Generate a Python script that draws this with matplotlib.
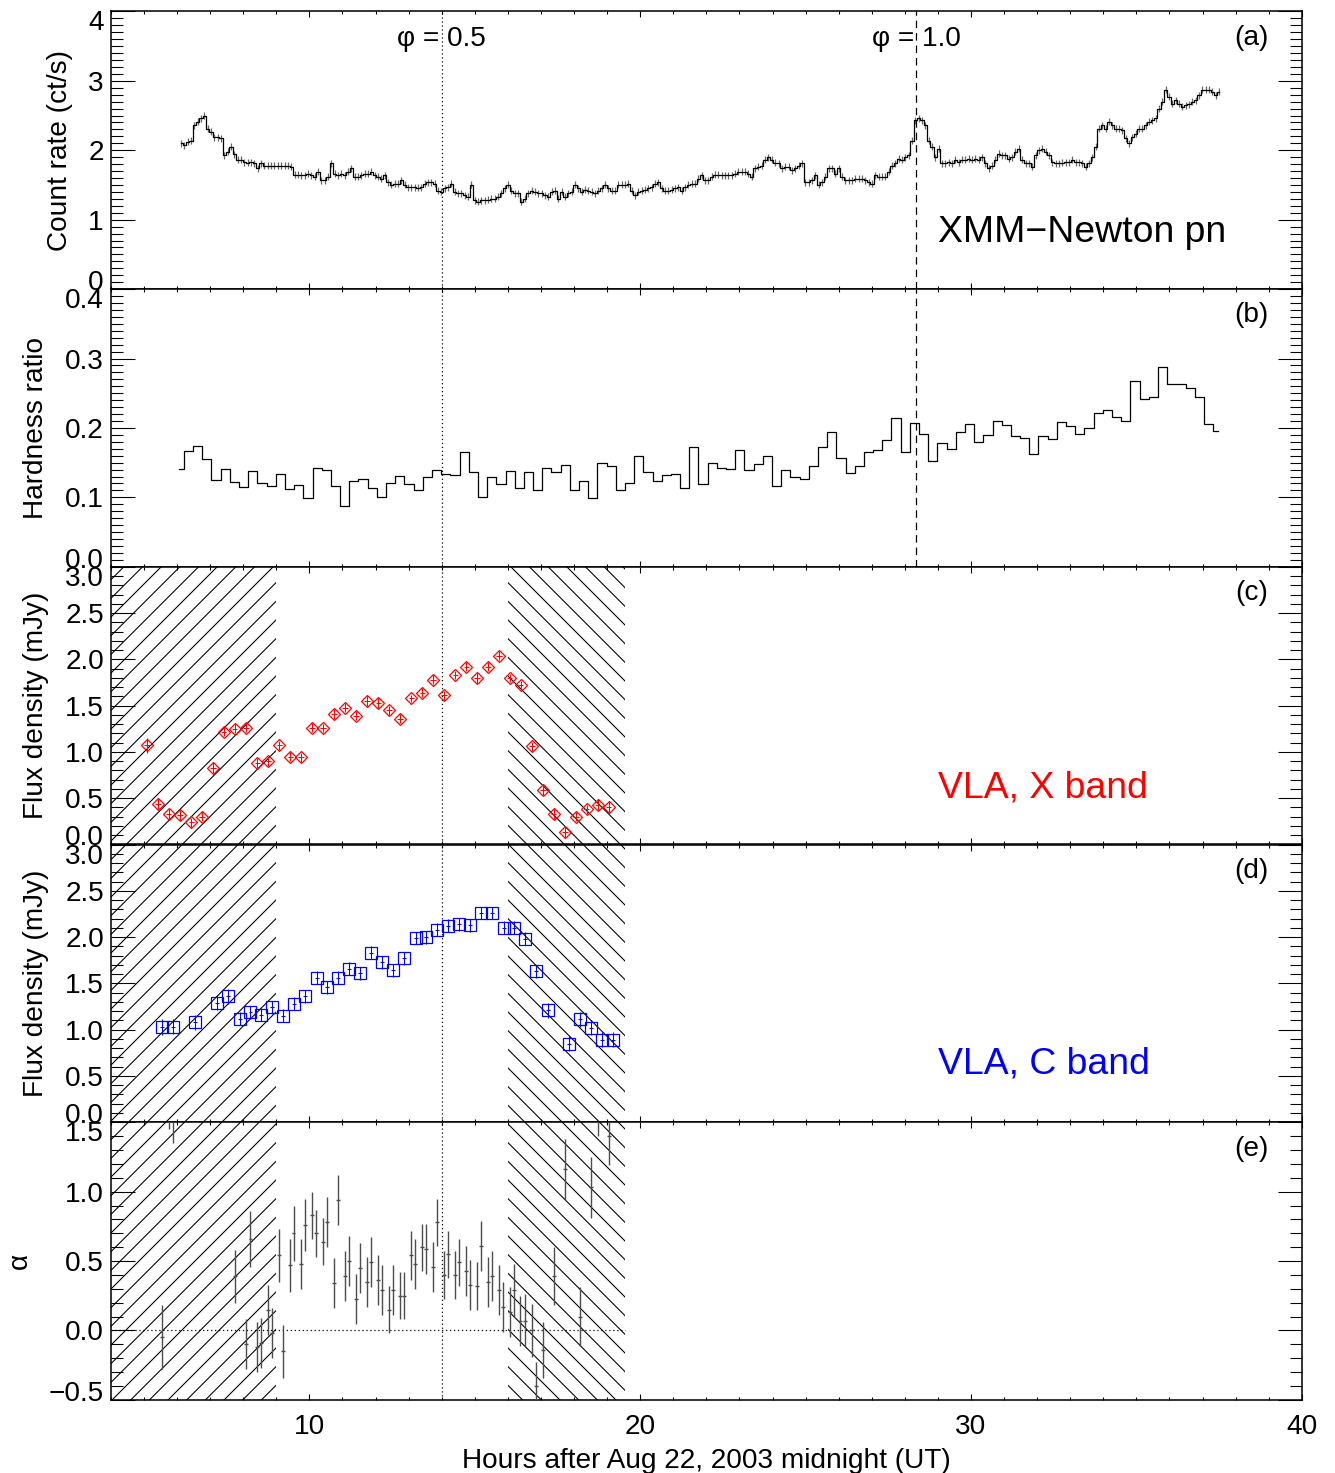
import matplotlib
matplotlib.use("Agg")
import matplotlib.pyplot as plt
import numpy as np
from matplotlib.ticker import MultipleLocator
from matplotlib.transforms import ScaledTranslation

plt.rcParams['font.family'] = ['Liberation Sans', 'DejaVu Sans']
plt.rcParams['hatch.linewidth'] = 0.7
plt.rcParams['axes.unicode_minus'] = True

# ---------------- data ----------------
# (a) XMM-Newton pn count rate (binned light curve)
rate_t0 = 6.12          # hour of first bin centre
rate_dt = 0.1009        # bin width (hours)
rate = [
    2.10, 2.07, 2.12, 2.14, 2.36, 2.41, 2.46, 2.50, 2.31, 2.27,
    2.19, 2.19, 2.17, 1.93, 1.98, 2.05, 1.94, 1.86, 1.86, 1.83,
    1.82, 1.83, 1.81, 1.74, 1.81, 1.78, 1.78, 1.78, 1.78, 1.78,
    1.78, 1.78, 1.78, 1.76, 1.65, 1.65, 1.64, 1.64, 1.66, 1.64,
    1.62, 1.69, 1.57, 1.57, 1.62, 1.81, 1.66, 1.64, 1.66, 1.64,
    1.69, 1.74, 1.62, 1.62, 1.64, 1.66, 1.66, 1.69, 1.64, 1.62,
    1.59, 1.64, 1.54, 1.50, 1.52, 1.52, 1.57, 1.50, 1.47, 1.47,
    1.47, 1.46, 1.47, 1.52, 1.54, 1.54, 1.52, 1.42, 1.40, 1.45,
    1.47, 1.52, 1.40, 1.38, 1.38, 1.35, 1.33, 1.50, 1.28, 1.26,
    1.28, 1.28, 1.29, 1.30, 1.30, 1.33, 1.38, 1.45, 1.50, 1.42,
    1.38, 1.38, 1.26, 1.30, 1.38, 1.42, 1.40, 1.38,
    1.38, 1.35, 1.33, 1.40, 1.42, 1.30, 1.40, 1.33, 1.38, 1.40,
    1.50, 1.45, 1.40, 1.43, 1.42, 1.40, 1.38, 1.42, 1.45, 1.50,
    1.45, 1.42, 1.42, 1.50, 1.50, 1.50, 1.52, 1.42, 1.35, 1.40,
    1.42, 1.43, 1.45, 1.47, 1.52, 1.54, 1.45, 1.42, 1.42, 1.43,
    1.45, 1.47, 1.42, 1.47, 1.50, 1.52, 1.52, 1.59, 1.64, 1.57,
    1.57, 1.62, 1.65, 1.65, 1.64, 1.64, 1.64, 1.64, 1.66, 1.69,
    1.69, 1.69, 1.66, 1.62, 1.74, 1.76, 1.78, 1.86, 1.90, 1.86,
    1.82, 1.81, 1.74, 1.76, 1.76, 1.71, 1.74, 1.78, 1.81, 1.54,
    1.54, 1.57, 1.64, 1.50, 1.54, 1.62, 1.74, 1.74, 1.66, 1.74,
    1.62, 1.57, 1.57, 1.57, 1.59, 1.59, 1.59, 1.57, 1.54, 1.52,
    1.64, 1.62, 1.62, 1.62, 1.69, 1.78, 1.81, 1.88, 1.86, 1.90,
    1.93, 2.14, 2.43, 2.46, 2.43, 2.36, 2.14, 2.05, 1.90, 2.02,
    1.81, 1.81, 1.83, 1.81, 1.86, 1.83, 1.86, 1.86, 1.88, 1.86,
    1.88, 1.86, 1.90, 1.81, 1.74, 1.78, 1.86, 1.95, 1.93, 1.93,
    1.88, 1.90, 1.98, 2.02, 1.86, 1.81, 1.81, 1.76, 1.93, 2.00,
    2.02, 1.98, 1.93, 1.83, 1.81, 1.81, 1.82, 1.83, 1.83, 1.86,
    1.83, 1.83, 1.81, 1.76, 1.81, 1.90, 2.05, 2.31, 2.36, 2.31,
    2.41, 2.36, 2.31, 2.31, 2.29, 2.17, 2.10, 2.19, 2.24, 2.31,
    2.31, 2.36, 2.41, 2.43, 2.46, 2.60, 2.70, 2.87, 2.77, 2.67,
    2.72, 2.67, 2.63, 2.65, 2.66, 2.70, 2.72, 2.79, 2.87, 2.87,
    2.87, 2.84, 2.79, 2.84,
]
rate_err = 0.05

# (b) hardness ratio, 1000 s bins
hr_t0 = 6.068
hr_dt = 1000.0 / 3600.0
hardness = [
    0.141, 0.167, 0.174, 0.155, 0.125, 0.141, 0.122, 0.115, 0.138, 0.121,
    0.116, 0.133, 0.112, 0.118, 0.099, 0.142, 0.140, 0.116, 0.088, 0.123,
    0.126, 0.113, 0.101, 0.121, 0.131, 0.119, 0.111, 0.129, 0.139, 0.134,
    0.132, 0.165, 0.137, 0.101, 0.129, 0.119, 0.138, 0.113, 0.136, 0.110,
    0.142,
    0.136, 0.147, 0.111, 0.123, 0.099, 0.150, 0.145, 0.111, 0.121, 0.160,
    0.137, 0.123, 0.132, 0.134, 0.113, 0.173, 0.119, 0.149, 0.143, 0.141,
    0.168, 0.139, 0.148, 0.159, 0.117, 0.140, 0.129, 0.126, 0.145, 0.173,
    0.194, 0.157, 0.135, 0.145, 0.165, 0.168, 0.183, 0.215,
    0.165, 0.207, 0.191, 0.152, 0.178, 0.170, 0.194, 0.205, 0.180, 0.190,
    0.210, 0.204, 0.189, 0.185, 0.162, 0.188, 0.184, 0.208, 0.203, 0.191,
    0.200, 0.222, 0.226, 0.216, 0.210, 0.268, 0.242, 0.244, 0.288, 0.264,
    0.263, 0.258, 0.244, 0.205, 0.195,
]

# (c) VLA X band
x_time = [5.09, 5.42, 5.75, 6.09, 6.43, 6.75, 7.09, 7.41, 7.74, 8.08,
          8.43, 8.76, 9.09, 9.42, 9.75, 10.08, 10.41, 10.74, 11.08, 11.41,
          11.74, 12.08, 12.41, 12.74, 13.08, 13.41, 13.74, 14.07, 14.41, 14.74,
          15.07, 15.40, 15.73, 16.06, 16.39, 16.73, 17.06, 17.39, 17.73, 18.06,
          18.38, 18.71, 19.05]
x_flux = [1.07, 0.44, 0.33, 0.32, 0.24, 0.30, 0.83, 1.22, 1.25, 1.26,
          0.88, 0.90, 1.07, 0.95, 0.94, 1.26, 1.26, 1.41, 1.48, 1.39,
          1.55, 1.53, 1.45, 1.36, 1.58, 1.64, 1.78, 1.61, 1.83, 1.92,
          1.80, 1.92, 2.04, 1.80, 1.72, 1.06, 0.59, 0.33, 0.13, 0.30,
          0.38, 0.43, 0.41]
x_err = [0.08, 0.06, 0.05, 0.05, 0.05, 0.05, 0.06, 0.05, 0.05, 0.05,
         0.05, 0.05, 0.05, 0.05, 0.05, 0.05, 0.04, 0.05, 0.05, 0.05,
         0.05, 0.05, 0.05, 0.05, 0.04, 0.05, 0.05, 0.05, 0.04, 0.05,
         0.05, 0.05, 0.05, 0.04, 0.05, 0.05, 0.05, 0.05, 0.06, 0.05,
         0.05, 0.06, 0.06]

# (d) VLA C band
c_time = [5.55, 5.87, 6.54, 7.22, 7.55, 7.89, 8.22, 8.55, 8.88, 9.20,
          9.53, 9.87, 10.22, 10.54, 10.87, 11.21, 11.54, 11.87, 12.20, 12.53,
          12.87, 13.21, 13.53, 13.86, 14.19, 14.53, 14.86, 15.19, 15.53, 15.87,
          16.19, 16.53, 16.86, 17.20, 17.85, 18.18, 18.52, 18.85, 19.19]
c_flux = [1.03, 1.03, 1.08, 1.29, 1.36, 1.12, 1.19, 1.16, 1.24, 1.15,
          1.28, 1.36, 1.56, 1.46, 1.56, 1.66, 1.61, 1.83, 1.73, 1.64,
          1.77, 1.99, 2.00, 2.08, 2.12, 2.14, 2.13, 2.26, 2.26, 2.10,
          2.10, 1.98, 1.63, 1.21, 0.85, 1.11, 1.02, 0.89, 0.89]
c_err = [0.09, 0.08, 0.08, 0.08, 0.08, 0.07, 0.07, 0.07, 0.07, 0.07,
         0.07, 0.07, 0.07, 0.07, 0.07, 0.07, 0.07, 0.07, 0.07, 0.07,
         0.07, 0.07, 0.07, 0.07, 0.07, 0.07, 0.07, 0.07, 0.07, 0.07,
         0.07, 0.07, 0.07, 0.08, 0.08, 0.08, 0.08, 0.08, 0.08]

# (e) spectral index alpha
a_time = [5.55, 5.77, 5.87, 7.74, 8.08, 8.22, 8.42, 8.55, 8.75, 8.88,
          9.09, 9.20, 9.42, 9.52, 9.75, 9.86, 10.08, 10.19, 10.41, 10.53,
          10.74, 10.87, 11.07, 11.20, 11.41, 11.54, 11.74, 11.86, 12.07, 12.19,
          12.40, 12.53, 12.74, 12.87, 13.07, 13.20, 13.40, 13.52, 13.74, 13.86,
          14.07, 14.19, 14.40, 14.52, 14.74, 14.85, 15.06, 15.18, 15.39, 15.52,
          15.73, 15.86, 16.06, 16.19, 16.37, 16.53, 16.73, 16.86, 17.06, 17.40,
          17.73, 18.18, 18.52, 18.72, 19.05]
alpha = [-0.05, 1.62, 1.58, 0.39, -0.10, 0.66, -0.12, -0.09, 0.15, -0.02,
         0.54, -0.15, 0.47, 0.70, 0.48, 0.76, 0.83, 0.70, 0.64, 0.78,
         0.34, 0.94, 0.39, 0.50, 0.23, 0.45, 0.35, 0.49, 0.36, 0.29,
         0.15, 0.29, 0.25, 0.25, 0.54, 0.48, 0.60, 0.59, 0.46, 0.78,
         0.40, 0.55, 0.40, 0.49, 0.43, 0.33, 0.32, 0.61, 0.35, 0.39,
         0.29, 0.17, 0.13, 0.29, 0.07, 0.07, 0.00, -0.40, -0.14, 0.39,
         1.16, 0.10, 1.03, 1.65, 1.40]
alpha_err = [0.23, 0.17, 0.23, 0.19, 0.18, 0.20, 0.18, 0.18, 0.18, 0.18,
             0.19, 0.19, 0.19, 0.20, 0.18, 0.19, 0.17, 0.17, 0.17, 0.18,
             0.18, 0.18, 0.18, 0.18, 0.18, 0.18, 0.18, 0.18, 0.18, 0.18,
             0.17, 0.18, 0.17, 0.17, 0.18, 0.18, 0.17, 0.18, 0.18, 0.17,
             0.17, 0.17, 0.17, 0.17, 0.18, 0.18, 0.17, 0.18, 0.18, 0.18,
             0.18, 0.18, 0.18, 0.19, 0.18, 0.19, 0.19, 0.17, 0.20, 0.21,
             0.22, 0.21, 0.22, 0.25, 0.21]

phase_half = 14.0       # phi = 0.5
phase_one = 28.34       # phi = 1.0
hatch_left = (4.0, 9.0)
hatch_right = (16.0, 19.55)

panel_letters = ['(a)', '(b)', '(c)', '(d)', '(e)']
ylabels = ['Count rate (ct/s)', 'Hardness ratio', 'Flux density (mJy)',
           'Flux density (mJy)', '\u03b1']
ylims = [(0, 4), (0, 0.4), (0, 3.0), (0, 3.0), (-0.5, 1.5)]
yticks = [[0, 1, 2, 3, 4],
          [0.0, 0.1, 0.2, 0.3, 0.4],
          [0.0, 0.5, 1.0, 1.5, 2.0, 2.5, 3.0],
          [0.0, 0.5, 1.0, 1.5, 2.0, 2.5, 3.0],
          [-0.5, 0.0, 0.5, 1.0, 1.5]]
ytick_fmt = ['{:.0f}', '{:.1f}', '{:.1f}', '{:.1f}', '{:.1f}']
yminor = [0.1, 0.01, 0.1, 0.1, 0.1]

# ---------------- figure ----------------
DPI = 112
W, H = 1335, 1473
fig = plt.figure(figsize=(W / DPI, H / DPI), dpi=DPI)

left_px, right_px = 110.9, 1301.8
top_px, panel_h = 11.4, 277.7
FS = 18

axes = []
for i in range(5):
    bottom = 1 - (top_px + panel_h * (i + 1)) / H
    ax = fig.add_axes([left_px / W, bottom, (right_px - left_px) / W, panel_h / H])
    axes.append(ax)

for i, ax in enumerate(axes):
    ax.set_xlim(4, 40)
    ax.set_ylim(*ylims[i])
    ax.xaxis.set_major_locator(MultipleLocator(10))
    ax.xaxis.set_minor_locator(MultipleLocator(1))
    ax.set_yticks(yticks[i])
    ax.set_yticklabels([ytick_fmt[i].format(v).replace('-', '\u2212') for v in yticks[i]])
    ax.yaxis.set_minor_locator(MultipleLocator(yminor[i]))
    ax.tick_params(axis='both', which='both', direction='in', top=True, right=True,
                   width=0.7, colors='k', labelsize=FS)
    ax.tick_params(axis='x', which='major', length=3.6, pad=9)
    ax.tick_params(axis='x', which='minor', length=1.8)
    ax.tick_params(axis='y', which='major', length=15.4, pad=4.5)
    ax.tick_params(axis='y', which='minor', length=7.7)
    for s in ax.spines.values():
        s.set_linewidth(1.0)
    if i < 4:
        ax.tick_params(axis='x', labelbottom=False)
    ax.set_ylabel(ylabels[i], fontsize=FS, labelpad=10)
    ax.text(0.958, 0.905, panel_letters[i], transform=ax.transAxes,
            ha='center', va='center', fontsize=FS)
    # shift end tick labels inward like the original
    ticks = ax.yaxis.get_major_ticks()
    off = 9.0 / DPI
    ticks[0].label1.set_transform(ticks[0].label1.get_transform() +
                                  ScaledTranslation(0, off, fig.dpi_scale_trans))
    ticks[-1].label1.set_transform(ticks[-1].label1.get_transform() +
                                   ScaledTranslation(0, -off, fig.dpi_scale_trans))
    # phase lines
    ax.axvline(phase_half, color='k', lw=0.8, ls=(0, (1, 2.2)), zorder=1)
    if i < 2:
        ax.axvline(phase_one, color='k', lw=0.8, ls=(0, (6, 4)), zorder=1)
    if i >= 2:
        ax.axvspan(*hatch_left, facecolor='none', edgecolor='k', hatch='//', lw=0, zorder=0)
        ax.axvspan(*hatch_right, facecolor='none', edgecolor='k', hatch='\\\\', lw=0, zorder=0)

axa, axb, axc, axd, axe = axes

# (a)
t_a = rate_t0 + rate_dt * np.arange(len(rate))
axa.errorbar(t_a, rate, yerr=rate_err, fmt='none', ecolor='0.4', elinewidth=0.8)
axa.step(t_a, rate, where='mid', color='k', lw=0.8)
axa.text(phase_half, 0.900, '\u03c6 = 0.5', transform=axa.get_xaxis_transform(),
         ha='center', va='center', fontsize=FS)
axa.text(phase_one, 0.900, '\u03c6 = 1.0', transform=axa.get_xaxis_transform(),
         ha='center', va='center', fontsize=FS)
axa.text(0.6945, 0.205, 'XMM\u2212Newton pn', transform=axa.transAxes,
         ha='left', va='center', fontsize=24)

# (b)
t_b = hr_t0 + hr_dt * np.arange(len(hardness))
axb.step(t_b, hardness, where='mid', color='k', lw=0.8)

# (c)
axc.errorbar(x_time, x_flux, yerr=x_err, xerr=0.08, fmt='D', ms=5.6,
             mfc='none', mec='red', mew=0.8, ecolor='red', elinewidth=0.7,
             capsize=0, zorder=3)
axc.text(0.6945, 0.205, 'VLA, X band', transform=axc.transAxes,
         ha='left', va='center', fontsize=24, color='red')

# (d)
axd.errorbar(c_time, c_flux, yerr=c_err, xerr=0.06, fmt='s', ms=7.4,
             mfc='none', mec='blue', mew=0.8, ecolor='blue', elinewidth=0.7,
             capsize=0, zorder=3)
axd.text(0.6945, 0.208, 'VLA, C band', transform=axd.transAxes,
         ha='left', va='center', fontsize=24, color='blue')

# (e)
axe.hlines(0.0, hatch_left[0], hatch_right[1], colors='k', lw=0.8,
           linestyles=[(0, (1, 2.2))], zorder=1)
axe.errorbar(a_time, alpha, yerr=alpha_err, xerr=0.06, fmt='none',
             ecolor='0.3', elinewidth=0.9, capsize=0, zorder=3)
axe.set_xlabel('Hours after Aug 22, 2003 midnight (UT)', fontsize=FS, labelpad=5)

fig.savefig('out.png', dpi=DPI)
